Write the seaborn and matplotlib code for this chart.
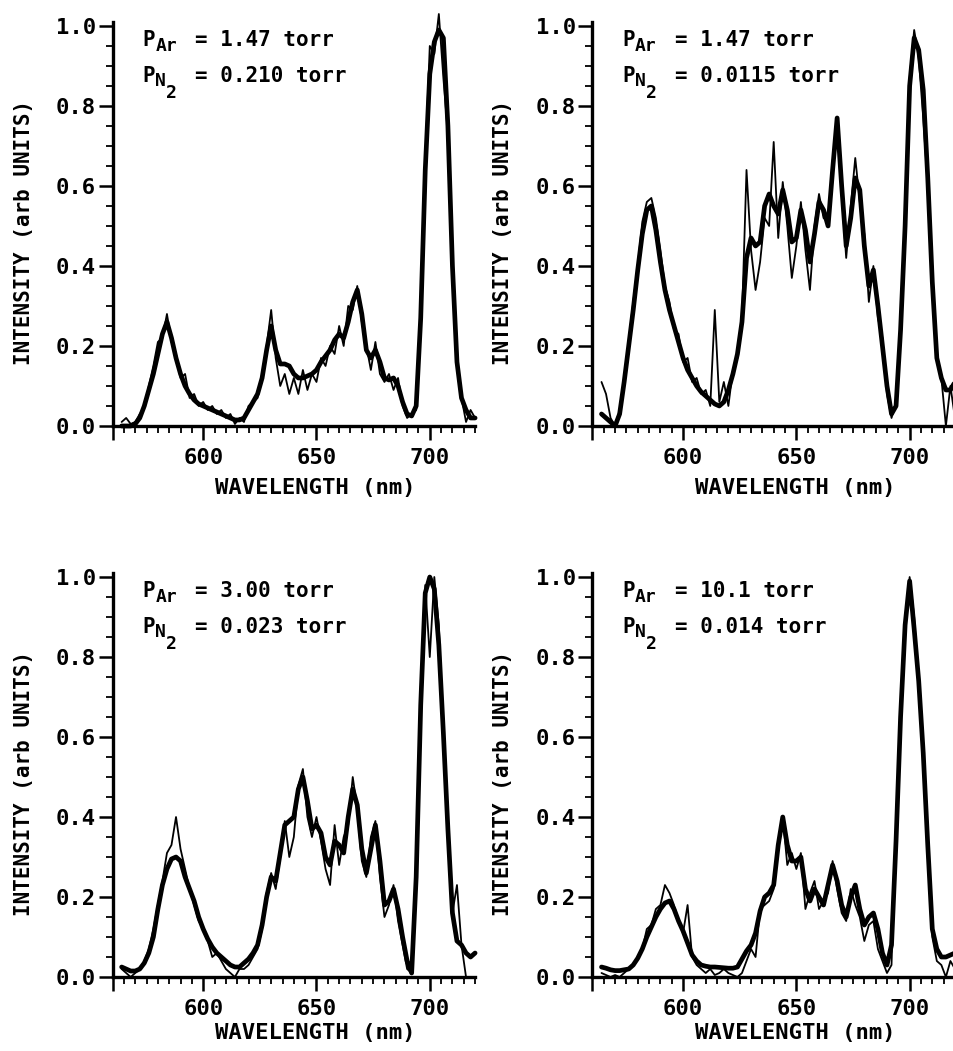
import matplotlib
matplotlib.use("Agg")
import matplotlib.pyplot as plt
from matplotlib.ticker import MultipleLocator, FixedLocator, FixedFormatter
from matplotlib.transforms import offset_copy
import seaborn as sns
import pandas as pd

# ---------------- data ----------------
wavelength = list(range(564, 721, 2))

p1_fit = [0.0, 0.0, 0.0, 0.005, 0.02, 0.05, 0.09, 0.13, 0.18, 0.23,
          0.26, 0.22, 0.17, 0.13, 0.10, 0.08, 0.065, 0.055, 0.05, 0.045,
          0.04, 0.035, 0.03, 0.025, 0.02, 0.015, 0.015, 0.02, 0.04, 0.06,
          0.08, 0.12, 0.19, 0.25, 0.19, 0.155, 0.155, 0.15, 0.13, 0.12,
          0.12, 0.125, 0.13, 0.14, 0.16, 0.175, 0.19, 0.215, 0.23, 0.22,
          0.26, 0.31, 0.34, 0.28, 0.19, 0.17, 0.19, 0.16, 0.12, 0.115,
          0.12, 0.10, 0.06, 0.03, 0.025, 0.05, 0.27, 0.64, 0.88, 0.96,
          0.99, 0.97, 0.75, 0.40, 0.16, 0.07, 0.04, 0.02, 0.02]
p1_meas = [0.01, 0.02, 0.005, 0.01, 0.03, 0.045, 0.10, 0.15, 0.21, 0.22,
           0.28, 0.21, 0.18, 0.12, 0.13, 0.07, 0.08, 0.05, 0.06, 0.04,
           0.05, 0.03, 0.04, 0.02, 0.03, 0.005, 0.02, 0.01, 0.05, 0.06,
           0.07, 0.13, 0.20, 0.29, 0.17, 0.10, 0.13, 0.08, 0.12, 0.08,
           0.14, 0.09, 0.13, 0.11, 0.17, 0.15, 0.20, 0.18, 0.25, 0.20,
           0.30, 0.29, 0.35, 0.26, 0.20, 0.14, 0.21, 0.13, 0.11, 0.13,
           0.09, 0.12, 0.05, 0.02, 0.03, 0.04, 0.28, 0.66, 0.95, 0.93,
           1.03, 0.87, 0.73, 0.40, 0.15, 0.07, 0.01, 0.04, 0.02]

p2_fit = [0.03, 0.02, 0.01, 0.0, 0.03, 0.11, 0.20, 0.29, 0.39, 0.48,
          0.54, 0.55, 0.49, 0.41, 0.34, 0.29, 0.25, 0.21, 0.17, 0.14,
          0.12, 0.10, 0.085, 0.075, 0.065, 0.055, 0.05, 0.06, 0.09, 0.13,
          0.18, 0.26, 0.42, 0.47, 0.45, 0.46, 0.55, 0.58, 0.55, 0.53,
          0.59, 0.54, 0.46, 0.47, 0.54, 0.49, 0.41, 0.48, 0.56, 0.54,
          0.50, 0.64, 0.77, 0.60, 0.45, 0.52, 0.62, 0.59, 0.45, 0.35,
          0.39, 0.30, 0.20, 0.10, 0.03, 0.05, 0.24, 0.50, 0.85, 0.97,
          0.94, 0.84, 0.62, 0.36, 0.17, 0.12, 0.09, 0.09, 0.11]
p2_meas = [0.11, 0.08, 0.02, 0.0, 0.04, 0.12, 0.21, 0.31, 0.40, 0.51,
           0.56, 0.57, 0.52, 0.44, 0.35, 0.31, 0.24, 0.23, 0.16, 0.17,
           0.11, 0.12, 0.08, 0.09, 0.05, 0.29, 0.06, 0.11, 0.05, 0.14,
           0.17, 0.27, 0.64, 0.44, 0.34, 0.41, 0.52, 0.50, 0.71, 0.47,
           0.61, 0.50, 0.37, 0.45, 0.56, 0.44, 0.34, 0.50, 0.58, 0.52,
           0.51, 0.66, 0.77, 0.58, 0.42, 0.55, 0.67, 0.56, 0.48, 0.31,
           0.40, 0.27, 0.22, 0.08, 0.02, 0.06, 0.26, 0.53, 0.87, 0.99,
           0.92, 0.77, 0.60, 0.35, 0.18, 0.12, 0.0, 0.10, 0.02]

p3_fit = [0.025, 0.02, 0.015, 0.015, 0.02, 0.035, 0.06, 0.10, 0.17, 0.23,
          0.27, 0.295, 0.30, 0.29, 0.25, 0.22, 0.19, 0.15, 0.12, 0.095,
          0.075, 0.06, 0.05, 0.04, 0.03, 0.025, 0.025, 0.035, 0.045, 0.06,
          0.08, 0.13, 0.20, 0.25, 0.24, 0.31, 0.38, 0.39, 0.40, 0.47,
          0.50, 0.44, 0.37, 0.38, 0.36, 0.30, 0.28, 0.34, 0.33, 0.31,
          0.40, 0.47, 0.43, 0.32, 0.26, 0.32, 0.38, 0.29, 0.18, 0.19,
          0.22, 0.17, 0.10, 0.04, 0.01, 0.25, 0.68, 0.96, 1.0, 0.97,
          0.83, 0.61, 0.37, 0.16, 0.09, 0.08, 0.06, 0.05, 0.06]
p3_meas = [0.02, 0.01, 0.0, 0.01, 0.02, 0.04, 0.07, 0.12, 0.18, 0.24,
           0.31, 0.33, 0.40, 0.32, 0.27, 0.22, 0.18, 0.14, 0.12, 0.09,
           0.05, 0.06, 0.04, 0.02, 0.01, 0.0, 0.02, 0.02, 0.03, 0.05,
           0.07, 0.12, 0.21, 0.26, 0.22, 0.30, 0.39, 0.30, 0.35, 0.48,
           0.52, 0.40, 0.35, 0.40, 0.34, 0.27, 0.23, 0.38, 0.28, 0.35,
           0.38, 0.50, 0.42, 0.29, 0.25, 0.35, 0.39, 0.25, 0.15, 0.18,
           0.23, 0.14, 0.08, 0.02, 0.01, 0.28, 0.72, 0.98, 0.80, 1.0,
           0.88, 0.60, 0.36, 0.16, 0.23, 0.08, 0.0, 0.0, 0.0]

p4_fit = [0.025, 0.022, 0.018, 0.016, 0.016, 0.018, 0.02, 0.03, 0.047, 0.07,
          0.10, 0.125, 0.15, 0.17, 0.185, 0.19, 0.17, 0.14, 0.115, 0.085,
          0.055, 0.04, 0.03, 0.027, 0.025, 0.025, 0.024, 0.023, 0.022, 0.022,
          0.025, 0.045, 0.065, 0.08, 0.11, 0.165, 0.20, 0.21, 0.23, 0.33,
          0.40, 0.33, 0.29, 0.29, 0.30, 0.22, 0.19, 0.22, 0.20, 0.18,
          0.23, 0.28, 0.24, 0.18, 0.15, 0.20, 0.23, 0.17, 0.13, 0.15,
          0.16, 0.12, 0.06, 0.03, 0.08, 0.34, 0.65, 0.88, 0.99, 0.87,
          0.74, 0.56, 0.33, 0.12, 0.07, 0.05, 0.05, 0.055, 0.06]
p4_meas = [0.01, 0.005, 0.0, 0.005, 0.0, 0.01, 0.02, 0.03, 0.05, 0.07,
           0.12, 0.13, 0.17, 0.18, 0.23, 0.21, 0.18, 0.14, 0.11, 0.18,
           0.05, 0.03, 0.02, 0.01, 0.02, 0.005, 0.01, 0.02, 0.01, 0.005,
           0.0, 0.01, 0.04, 0.07, 0.05, 0.17, 0.18, 0.19, 0.22, 0.34,
           0.40, 0.28, 0.31, 0.27, 0.31, 0.17, 0.21, 0.24, 0.17, 0.19,
           0.21, 0.29, 0.22, 0.16, 0.14, 0.22, 0.18, 0.15, 0.09, 0.13,
           0.14, 0.07, 0.04, 0.01, 0.03, 0.38, 0.68, 0.86, 1.0, 0.90,
           0.73, 0.58, 0.30, 0.10, 0.04, 0.03, 0.0, 0.04, 0.02]

ann_ar = ["1.47", "1.47", "3.00", "10.1"]
ann_n2 = ["0.210", "0.0115", "0.023", "0.014"]

x_ticks = [560, 600, 650, 700]
x_ticklabels = ["", "600", "650", "700"]
y_ticks = [0.0, 0.2, 0.4, 0.6, 0.8, 1.0]
y_ticklabels = ["0.0", "0.2", "0.4", "0.6", "0.8", "1.0"]

# ---------------- style ----------------
sns.set_style("ticks")
plt.rcParams["font.family"] = ["DejaVu Sans Mono", "DejaVu Sans"]
plt.rcParams["font.weight"] = "bold"
plt.rcParams["axes.labelweight"] = "bold"
plt.rcParams["text.color"] = "black"
plt.rcParams["axes.labelcolor"] = "black"
plt.rcParams["xtick.color"] = "black"
plt.rcParams["ytick.color"] = "black"
plt.rcParams["axes.edgecolor"] = "black"

fig = plt.figure(figsize=(9.54, 10.51), dpi=100)

positions = [
    [0.118, 0.5947, 0.380, 0.3844],
    [0.621, 0.5947, 0.380, 0.3844],
    [0.118, 0.0704, 0.380, 0.3844],
    [0.621, 0.0704, 0.380, 0.3844],
]
xlabel_y = [-0.13, -0.13, -0.115, -0.115]
fits = [p1_fit, p2_fit, p3_fit, p4_fit]
meas = [p1_meas, p2_meas, p3_meas, p4_meas]


def put(ax, x, y, s, dx, dy, size):
    tr = offset_copy(ax.transData, fig=fig, x=dx, y=dy, units="points")
    ax.text(x, y, s, transform=tr, fontsize=size, fontweight="bold",
            va="center", ha="left", color="black")


for i in range(4):
    ax = fig.add_axes(positions[i])
    df = pd.DataFrame({"wl": wavelength, "fit": fits[i], "meas": meas[i]})
    sns.lineplot(data=df, x="wl", y="meas", ax=ax, color="black", lw=1.3,
                 estimator=None, sort=False, clip_on=False)
    sns.lineplot(data=df, x="wl", y="fit", ax=ax, color="black", lw=3.4,
                 estimator=None, sort=False, clip_on=False)
    ax.set_xlim(560, 720)
    ax.set_ylim(0, 1.01)
    for s in ["top", "right"]:
        ax.spines[s].set_visible(False)
    for s in ["left", "bottom"]:
        ax.spines[s].set_linewidth(2.4)
        ax.spines[s].set_color("black")
    ax.xaxis.set_major_locator(FixedLocator(x_ticks))
    ax.xaxis.set_major_formatter(FixedFormatter(x_ticklabels))
    ax.xaxis.set_minor_locator(MultipleLocator(5))
    ax.yaxis.set_major_locator(FixedLocator(y_ticks))
    ax.yaxis.set_major_formatter(FixedFormatter(y_ticklabels))
    ax.yaxis.set_minor_locator(MultipleLocator(0.05))
    ax.tick_params(axis="both", which="major", direction="out", length=10,
                   width=1.8, labelsize=16, color="black", labelcolor="black")
    ax.tick_params(axis="both", which="minor", direction="out", length=5,
                   width=1.3, color="black")
    ax.tick_params(axis="x", which="major", pad=6)
    ax.tick_params(axis="y", which="major", pad=2)
    for lab in ax.get_xticklabels() + ax.get_yticklabels():
        lab.set_fontweight("bold")
    ax.set_xlabel("WAVELENGTH (nm)", fontsize=16, fontweight="bold", color="black")
    ax.set_ylabel("INTENSITY (arb UNITS)", fontsize=15, fontweight="bold", color="black")
    ax.xaxis.set_label_coords(0.56, xlabel_y[i])
    ax.yaxis.set_label_coords(-0.218, 0.48)

    x0 = 573.0
    # line 1: P_Ar
    put(ax, x0, 0.965, "P", 0, 0, 15)
    put(ax, x0, 0.965, "Ar", 9.5, -4.5, 13)
    put(ax, x0, 0.965, "= " + ann_ar[i] + " torr", 38, 0, 15)
    # line 2: P_N2
    put(ax, x0, 0.875, "P", 0, 0, 15)
    put(ax, x0, 0.875, "N", 9.5, -3.5, 13)
    put(ax, x0, 0.875, "2", 17.5, -12.5, 13)
    put(ax, x0, 0.875, "= " + ann_n2[i] + " torr", 38, 0, 15)

fig.savefig("out.png", dpi=100)
